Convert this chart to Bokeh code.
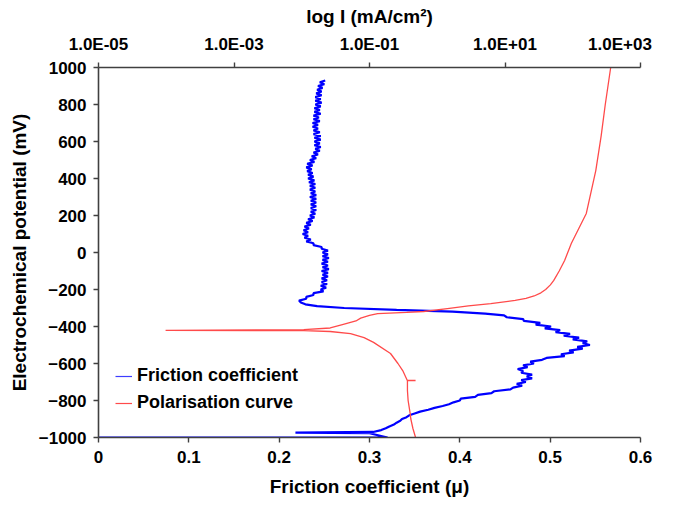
from bokeh.plotting import figure
from bokeh.models import (Range1d, LogAxis, LogScale, FixedTicker, CustomJSTickFormatter,
                          Legend, LegendItem)
from bokeh.embed import file_html
from bokeh.resources import INLINE

# ---------------- data ----------------
# Friction coefficient (bottom axis) versus electrochemical potential (mV)
fric_upper_E = [
    930, 920, 910, 900, 890, 880, 870, 860, 850, 840,
    830, 820, 810, 800, 790, 780, 770, 760, 750, 740,
    730, 720, 710, 700, 690, 680, 670, 660, 650, 640,
    630, 620, 610, 600, 590, 580, 570, 560, 550, 540,
    530, 520, 510, 500, 490, 480, 470, 460, 450, 440,
    430, 420, 410, 400, 390, 380, 370, 360, 350, 340,
    330, 320, 310, 300, 290, 280, 270, 260, 250, 240,
    230, 220, 210, 200, 190, 180, 170, 160, 150, 140,
    130, 120, 110, 100, 90, 80, 70, 60, 50, 40,
    30, 20, 10, 0, -10, -20, -30, -40, -50, -60,
    -70, -80, -90, -100, -110, -120, -130, -140, -150, -160,
    -170, -180, -190, -200, -210, -220, -230, -240, -250, -260,
    -270, -280, -290, -300]
fric_upper_mu = [
    0.251, 0.245, 0.250, 0.243, 0.248, 0.242, 0.247, 0.241, 0.247, 0.240,
    0.246, 0.240, 0.247, 0.240, 0.246, 0.239, 0.245, 0.239, 0.246, 0.238,
    0.244, 0.238, 0.245, 0.237, 0.243, 0.237, 0.243, 0.238, 0.245, 0.238,
    0.246, 0.239, 0.246, 0.239, 0.245, 0.239, 0.246, 0.240, 0.245, 0.238,
    0.243, 0.236, 0.241, 0.234, 0.239, 0.231, 0.237, 0.230, 0.236, 0.231,
    0.237, 0.232, 0.238, 0.232, 0.239, 0.233, 0.240, 0.234, 0.240, 0.234,
    0.240, 0.235, 0.241, 0.234, 0.241, 0.235, 0.241, 0.235, 0.241, 0.235,
    0.241, 0.235, 0.240, 0.234, 0.239, 0.232, 0.237, 0.230, 0.235, 0.228,
    0.233, 0.227, 0.232, 0.226, 0.232, 0.228, 0.235, 0.230, 0.238, 0.238,
    0.247, 0.247, 0.254, 0.248, 0.254, 0.248, 0.255, 0.248, 0.254, 0.247,
    0.254, 0.248, 0.255, 0.247, 0.254, 0.248, 0.254, 0.247, 0.253, 0.247,
    0.253, 0.246, 0.252, 0.246, 0.249, 0.238, 0.238, 0.230, 0.230, 0.222,
    0.224, 0.229, 0.242, 0.272]

fric_mid_E = [
    -310, -320, -330, -340, -350, -360, -370, -380, -390, -400,
    -410, -420, -430, -440, -450, -460, -470, -480, -490, -500,
    -510, -520, -530, -540, -550, -560, -570, -580, -590, -600,
    -610, -620, -630, -640, -650, -660, -670, -680, -690, -700,
    -710, -720, -730, -740, -750, -760, -770, -780, -790, -800]
fric_mid_mu = [
    0.330, 0.392, 0.428, 0.449, 0.452, 0.470, 0.471, 0.489, 0.484, 0.501,
    0.494, 0.511, 0.506, 0.522, 0.515, 0.532, 0.525, 0.541, 0.536, 0.544,
    0.530, 0.536, 0.521, 0.526, 0.512, 0.516, 0.496, 0.491, 0.478, 0.482,
    0.470, 0.475, 0.464, 0.470, 0.468, 0.480, 0.474, 0.480, 0.468, 0.473,
    0.463, 0.469, 0.459, 0.456, 0.438, 0.435, 0.420, 0.417, 0.401, 0.400]

fric_low_E = [-810, -820, -830, -840, -850, -860, -870, -880, -890, -900,
              -910, -920, -930, -940, -950, -960, -970, -974, -977, -1000, -1000]
fric_low_mu = [0.393, 0.388, 0.381, 0.372, 0.365, 0.356, 0.350, 0.344, 0.341, 0.336,
               0.334, 0.330, 0.327, 0.322, 0.318, 0.313, 0.304, 0.218, 0.300, 0.320, 0.000]

# Polarisation curve: potential (mV) versus log10 of current density (mA/cm2)
pol_E = [-1000, -950, -900, -870, -800, -746, -692, -692, -693, -638,
         -600, -546, -486, -460, -438, -427, -422, -421, -417, -408,
         -390, -370, -355, -340, -330, -324, -319, -303, -289, -276,
         -259, -248, -235, -218, -200, -175, -151, -100, -43, 50,
         211, 443, 632, 800, 1000]
pol_logI = [-0.32, -0.36, -0.39, -0.40, -0.43, -0.44, -0.44, -0.32, -0.44, -0.51,
            -0.58, -0.69, -0.94, -1.08, -1.28, -1.58, -1.97, -4.01, -1.97, -1.58,
            -1.40, -1.20, -1.13, -1.00, -0.88, -0.45, -0.20, 0.15, 0.46, 0.79,
            1.15, 1.31, 1.43, 1.53, 1.60, 1.67, 1.72, 1.80, 1.88, 1.98,
            2.20, 2.34, 2.42, 2.48, 2.56]

x_ticks = [0, 0.1, 0.2, 0.3, 0.4, 0.5, 0.6]
y_ticks = [-1000, -800, -600, -400, -200, 0, 200, 400, 600, 800, 1000]
top_ticks = [1e-5, 1e-3, 1e-1, 1e1, 1e3]

fric_E = fric_upper_E + fric_mid_E + fric_low_E
fric_mu = fric_upper_mu + fric_mid_mu + fric_low_mu
pol_I = [10 ** v for v in pol_logI]

# ---------------- styling ----------------
FONT = "Liberation Sans"
BLUE = "#0000ff"
RED = "#ff4a4a"
AXIS = "#404040"

p = figure(width=675, height=505, output_backend="svg", toolbar_location=None,
           x_range=Range1d(0, 0.6), y_range=Range1d(-1000, 1000),
           min_border_left=98, min_border_right=35, min_border_top=67, min_border_bottom=68,
           x_axis_label="Friction coefficient (μ)",
           y_axis_label="Electrochemical potential (mV)")
p.extra_x_ranges = {"logI": Range1d(1e-5, 1e3)}
p.extra_x_scales = {"logI": LogScale()}
p.grid.visible = False
p.outline_line_color = None
p.background_fill_color = "white"
p.border_fill_color = "white"

bottom = p.below[0]
left = p.left[0]
top = LogAxis(x_range_name="logI", axis_label="log I (mA/cm²)")
p.add_layout(top, "above")

bottom.ticker = FixedTicker(ticks=x_ticks, minor_ticks=[])
bottom.formatter = CustomJSTickFormatter(code="return tick === 0 ? '0' : tick.toFixed(1);")
left.ticker = FixedTicker(ticks=y_ticks, minor_ticks=[])
top.ticker = FixedTicker(ticks=top_ticks, minor_ticks=[])
# the last label is pushed left (kept inside the chart) with trailing no-break spaces
top.formatter = CustomJSTickFormatter(code="""
const e = Math.round(Math.log10(tick));
const a = Math.abs(e);
const s = '1.0E' + (e < 0 ? '-' : '+') + (a < 10 ? '0' : '') + a;
return e === 3 ? s + '\\u00a0'.repeat(5) : s;
""")

for ax in [bottom, left, top]:
    ax.axis_line_color = AXIS
    ax.axis_line_width = 1.6
    ax.major_tick_line_color = AXIS
    ax.major_tick_line_width = 1.4
    ax.major_tick_out = 5
    ax.major_tick_in = 0
    ax.minor_tick_line_color = None
    ax.major_label_text_font = FONT
    ax.major_label_text_font_style = "bold"
    ax.major_label_text_font_size = "17px"
    ax.major_label_text_color = "black"
    ax.axis_label_text_font = FONT
    ax.axis_label_text_font_style = "bold"
    ax.axis_label_text_font_size = "19px"
    ax.axis_label_text_color = "black"

bottom.major_label_standoff = 8
bottom.axis_label_standoff = 10
left.major_label_standoff = 7
left.axis_label_standoff = 6
top.major_label_standoff = 9
top.axis_label_standoff = 5

# ---------------- data lines ----------------
p.line(fric_mu, fric_E, color=BLUE, line_width=2.2)
p.line(pol_I, pol_E, color=RED, line_width=1.3, x_range_name="logI")

# ---------------- legend ----------------
nan = float("nan")
leg_b = p.line([nan], [nan], color="#3d3dff", line_width=1.2)
leg_r = p.line([nan], [nan], color=RED, line_width=1.2)
legend = Legend(items=[LegendItem(label="Friction coefficient", renderers=[leg_b]),
                       LegendItem(label="Polarisation curve", renderers=[leg_r])],
                location=(17, 24), orientation="vertical")
legend.glyph_width = 17
legend.glyph_height = 20
legend.label_height = 20
legend.label_standoff = 5
legend.spacing = 6
legend.padding = 0
legend.margin = 0
legend.border_line_color = None
legend.background_fill_alpha = 0
legend.label_text_font = FONT
legend.label_text_font_style = "bold"
legend.label_text_font_size = "18px"
legend.label_text_color = "black"
p.add_layout(legend)

open("out.html", "w").write(file_html(p, INLINE))
